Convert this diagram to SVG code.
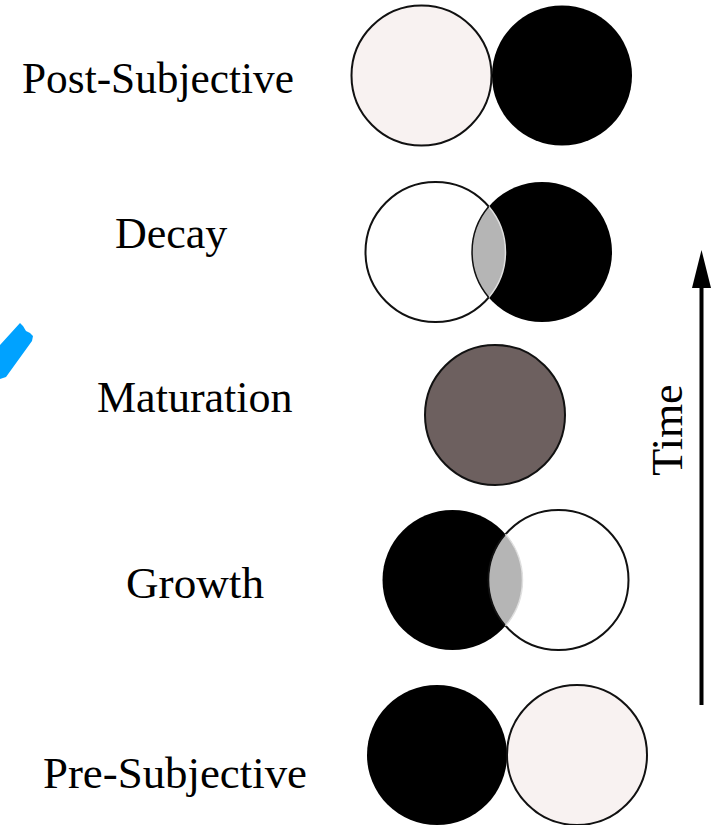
<svg xmlns="http://www.w3.org/2000/svg" width="713" height="825" viewBox="0 0 713 825">
  <style>
    .label { font-family: "Liberation Serif", "Times New Roman", serif; font-size: 44px; fill: #000; }
    .light { fill: #f8f2f1; stroke: #111; stroke-width: 2; }
    .white { fill: #fff; stroke: #111; stroke-width: 2; }
    .dark { fill: #000; }
    .mid { fill: #6d605f; stroke: #111; stroke-width: 2; }
    .lens { fill: #b5b5b5; }
    .edge { fill: none; stroke: #111; stroke-width: 1.5; }
    .soft { fill: none; stroke: #e0e0e0; stroke-width: 1.5; }
  </style>

  <rect width="713" height="825" fill="#fff"/>

  <!-- blue highlighter stroke at the left margin -->
  <polygon points="0,345 20,323 23,326 26,331 30,333 33,336 32,341 6,377 0,379" fill="#00a2ff"/>

  <!-- stage: post-subjective -->
  <g id="post-subjective">
    <text class="label" x="22" y="93" textLength="272" lengthAdjust="spacingAndGlyphs">Post-Subjective</text>
    <circle class="light" cx="421.5" cy="75.5" r="70"/>
    <circle class="dark" cx="562" cy="75.5" r="70"/>
  </g>

  <!-- stage: decay -->
  <g id="decay">
    <text class="label" x="115" y="248">Decay</text>
    <circle class="white" cx="435.5" cy="252" r="70"/>
    <circle class="dark" cx="542" cy="252" r="70"/>
    <path class="lens" d="M488.75,206.6 A70,70 0 0 1 488.75,297.4 A70,70 0 0 1 488.75,206.6 Z"/>
    <path class="soft" d="M488.75,206.6 A70,70 0 0 1 488.75,297.4"/>
    <path class="edge" d="M488.75,297.4 A70,70 0 0 1 488.75,206.6"/>
  </g>

  <!-- stage: maturation -->
  <g id="maturation">
    <text class="label" x="97" y="412">Maturation</text>
    <circle class="mid" cx="495" cy="415" r="70"/>
  </g>

  <!-- stage: growth -->
  <g id="growth">
    <text class="label" x="126" y="598" textLength="138" lengthAdjust="spacingAndGlyphs">Growth</text>
    <circle class="dark" cx="452.5" cy="580" r="70"/>
    <circle class="white" cx="558.5" cy="580" r="70" fill-opacity="0"/>
    <path class="lens" d="M505.5,534.3 A70,70 0 0 1 505.5,625.7 A70,70 0 0 1 505.5,534.3 Z"/>
    <path class="edge" d="M505.5,625.7 A70,70 0 0 1 505.5,534.3"/>
    <path class="soft" d="M505.5,534.3 A70,70 0 0 1 505.5,625.7"/>
  </g>

  <!-- stage: pre-subjective -->
  <g id="pre-subjective">
    <text class="label" x="43" y="788" textLength="264" lengthAdjust="spacingAndGlyphs">Pre-Subjective</text>
    <circle class="dark" cx="437" cy="755" r="70"/>
    <circle class="light" cx="577" cy="755" r="70"/>
  </g>

  <!-- time axis -->
  <g id="connectors">
    <line x1="701.5" y1="705" x2="701.5" y2="284" stroke="#000" stroke-width="4"/>
    <polygon points="701.5,250 692,288 711,288" fill="#000"/>
  </g>
  <g id="time-label">
    <text class="label" transform="translate(682,430) rotate(-90)" text-anchor="middle">Time</text>
  </g>
</svg>
